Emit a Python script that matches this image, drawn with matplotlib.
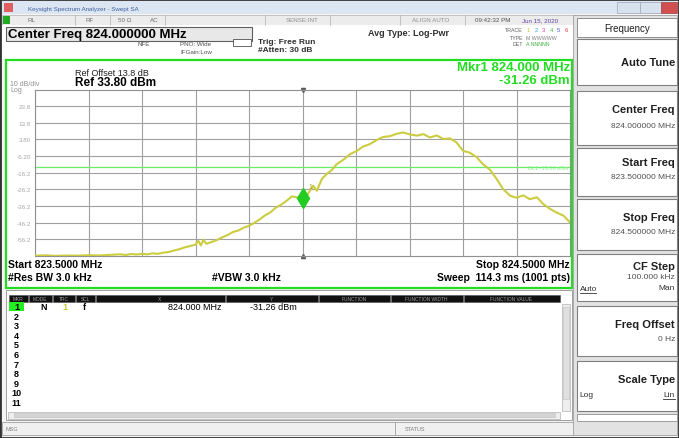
import matplotlib
matplotlib.use("Agg")
import matplotlib.pyplot as plt
from matplotlib.patches import Rectangle

plt.rcParams['font.family'] = ['Liberation Sans', 'DejaVu Sans']

# Sweep settings shown on the analyzer
startFreq = 823.5
stopFreq = 824.5
refLevel = 33.80
dbPerDiv = 10
displayLine = -13.0
markerFreq = 824.000
markerLevel = -31.26

# Trace 1 (MHz / dBm)
traceFreq = [823.500, 823.520, 823.540, 823.560, 823.580, 823.600, 823.620, 823.640,
             823.660, 823.670, 823.680, 823.690, 823.700, 823.710, 823.720, 823.730,
             823.740, 823.750, 823.760, 823.770, 823.780, 823.790, 823.800, 823.805,
             823.810, 823.815, 823.820, 823.830, 823.840, 823.850, 823.860, 823.870,
             823.880, 823.890, 823.900, 823.910, 823.920, 823.930, 823.940, 823.950,
             823.960, 823.970, 823.980, 823.990, 824.000, 824.010, 824.020, 824.027,
             824.036, 824.045, 824.055, 824.064, 824.076, 824.089, 824.102, 824.113,
             824.126, 824.139, 824.150, 824.164, 824.176, 824.188, 824.201, 824.214,
             824.226, 824.238, 824.251, 824.263, 824.276, 824.288, 824.300, 824.313,
             824.326, 824.337, 824.350, 824.363, 824.375, 824.388, 824.400, 824.413,
             824.425, 824.438, 824.450, 824.463, 824.475, 824.488, 824.500]
traceLevel = [-66.0, -65.8, -66.1, -65.9, -66.0, -65.7, -65.9, -65.5,
              -65.2, -65.6, -65.0, -65.3, -64.9, -65.2, -64.6, -64.9,
              -64.2, -63.8, -62.9, -62.1, -61.0, -60.2, -59.4, -57.0,
              -59.8, -56.4, -58.9, -57.8, -56.6, -55.0, -53.6, -51.8,
              -50.9, -49.2, -48.1, -46.3, -44.2, -41.8, -40.0, -37.2,
              -35.4, -33.1, -30.4, -31.0, -31.26, -29.0, -24.0, -27.0,
              -20.0, -17.0, -14.5, -11.0, -8.5, -5.0, -3.0, -0.5,
              1.0, 3.5, 5.2, 5.8, 7.2, 8.0, 6.8, 6.1,
              7.0, 5.0, 6.2, 4.1, 4.4, 2.0, -3.0, -4.2,
              -7.0, -11.0, -14.2, -20.0, -26.0, -30.0, -31.2, -29.8,
              -32.1, -30.9, -35.0, -38.0, -40.1, -42.0, -46.0]

yTickLabels = ["23.8", "13.8", "3.80", "-6.20", "-16.2", "-26.2", "-36.2", "-46.2", "-56.2"]

softKeys = ["Auto Tune", "Center Freq", "Start Freq", "Stop Freq", "CF Step", "Freq Offset", "Scale Type"]
softValues = ["", "824.000000 MHz", "823.500000 MHz", "824.500000 MHz", "100.000 kHz", "0 Hz", ""]

tableHeaders = ["MKR", "MODE", "TRC", "SCL", "X", "Y", "FUNCTION", "FUNCTION WIDTH", "FUNCTION VALUE"]
markerRows = list(range(1, 12))

W, H = 679, 439
fig = plt.figure(figsize=(W / 100, H / 100), dpi=100)
fig.patch.set_facecolor("white")

# pixel canvas for the screen decoration
ui = fig.add_axes([0, 0, 1, 1])
ui.set_xlim(0, W)
ui.set_ylim(H, 0)
ui.axis("off")


def box(x0, y0, x1, y1, fc="white", ec="#808080", lw=0.8, z=1):
    ui.add_patch(Rectangle((x0, y0), x1 - x0, y1 - y0, facecolor=fc, edgecolor=ec, lw=lw, zorder=z))


def txt(x, y, s, size=6.5, color="black", ha="left", bold=False, **kw):
    ui.text(x, y, s, fontsize=size, color=color, ha=ha, va="center",
            fontweight="bold" if bold else "normal", zorder=5, **kw)


# window frame + title bar
box(0, 0, W, H, fc="#f4f4f4", ec="#303030", lw=2)
box(2, 2, W - 2, 15, fc="#dbe6f2", ec="none")
box(4, 4, 13, 13, fc="#e06060", ec="none")
txt(28, 9, "Keysight Spectrum Analyzer - Swept SA", size=4.5, color="#4060a0")
box(617, 3, 640, 14, fc="#d8e2ee", ec="#a0a8b8", lw=0.5)
box(640, 3, 661, 14, fc="#d8e2ee", ec="#a0a8b8", lw=0.5)
box(661, 3, 677, 14, fc="#d05050", ec="#a04040", lw=0.5)

# status row
box(2, 16, 575, 26, fc="#ececec", ec="#b0b0b0", lw=0.5)
for xs in [75, 110, 165, 265, 330, 400, 465]:
    ui.plot([xs, xs], [16, 26], color="#b0b0b0", lw=0.5, zorder=2)
box(3, 17, 10, 25, fc="#22aa22", ec="none", z=3)
txt(28, 21, "RL", size=4.5, color="#707070")
txt(85, 21, "RF", size=4.5, color="#707070")
txt(118, 21, "50 Ω", size=4.5, color="#707070")
txt(150, 21, "AC", size=4.5, color="#707070")
txt(286, 21, "SENSE:INT", size=4.5, color="#909090")
txt(412, 21, "ALIGN AUTO", size=4.5, color="#909090")
txt(475, 21, "09:42:32 PM", size=4.5, color="#505050")
txt(522, 21, "Jun 15, 2020", size=4.5, color="#6040a0")

# settings header
box(2, 26, 575, 60, fc="white", ec="none")
box(6, 28, 252, 42, fc="#e8e8e8", ec="#606060", lw=0.8)
txt(8, 35, "Center Freq 824.000000 MHz", size=9.5, bold=True)
txt(138, 44, "NFE", size=4.5, color="#505050")
txt(180, 44, "PNO: Wide", size=4.5, color="#505050")
txt(180, 52, "IFGain:Low", size=4.5, color="#505050")
box(233, 40, 251, 47, fc="white", ec="#505050", lw=0.6)
txt(258, 42, "Trig: Free Run", size=6, bold=True, color="#303030")
txt(258, 50, "#Atten: 30 dB", size=6, bold=True, color="#303030")
txt(368, 33, "Avg Type: Log-Pwr", size=6.5, bold=True, color="#303030")
txt(523, 31, "TRACE", size=3.8, color="#606060", ha="right")
txt(523, 38, "TYPE", size=3.8, color="#606060", ha="right")
txt(523, 45, "DET", size=3.8, color="#606060", ha="right")
traceColors = ["#c8c830", "#30b0d0", "#e040c0", "#40c040", "#4060e0", "#e04040"]
for i, c in enumerate(traceColors):
    txt(527 + i * 7.5, 31, str(i + 1), size=4.2, color=c)
txt(526, 38, "M WWWWW", size=3.8, color="#808080")
txt(526, 45, "A NNNNN", size=3.8, color="#40b040")

# main display (green frame)
box(6, 61, 572, 289, fc="white", ec="#22dd22", lw=1.6, z=1)
txt(75, 73, "Ref Offset 13.8 dB", size=6.5, color="#202020")
txt(75, 83, "Ref 33.80 dBm", size=8.5, bold=True)
txt(10, 84, "10 dB/div", size=5, color="#909090")
txt(10, 91, "Log", size=5, color="#909090")
txt(570, 68, "Mkr1 824.000 MHz", size=9.5, bold=True, color="#22dd22", ha="right")
txt(570, 81.5, "-31.26 dBm", size=9.5, bold=True, color="#22dd22", ha="right")
txt(8, 265, "Start 823.5000 MHz", size=7.5, bold=True)
txt(570, 265, "Stop 824.5000 MHz", size=7.5, bold=True, ha="right")
txt(8, 278, "#Res BW 3.0 kHz", size=7.5, bold=True)
txt(212, 278, "#VBW 3.0 kHz", size=7.5, bold=True)
txt(570, 278, "Sweep  114.3 ms (1001 pts)", size=7.5, bold=True, ha="right")

# trace plot
ax = fig.add_axes([35 / W, 1 - 257 / H, 535 / W, 166.5 / H])
ax.set_zorder(3)
ax.set_facecolor("white")
ax.set_xlim(startFreq, stopFreq)
ax.set_ylim(refLevel - 10 * dbPerDiv, refLevel)
ax.set_xticks([startFreq + i * (stopFreq - startFreq) / 10 for i in range(11)])
yTicks = [refLevel - i * dbPerDiv for i in range(1, 10)]
ax.set_yticks(yTicks)
ax.set_yticklabels(yTickLabels, fontsize=4.5, color="#a8a8a8")
ax.set_xticklabels([])
ax.tick_params(length=0, pad=3)
ax.grid(True, color="#a0a0a0", lw=0.8)
for sp in ax.spines.values():
    sp.set_color("#909090")
    sp.set_linewidth(0.8)
ax.axhline(displayLine, color="#66ee66", lw=0.9, zorder=2)
ax.text(stopFreq - 0.003, displayLine, "DL1 -13.00 dBm", fontsize=4, color="#88ee88",
        ha="right", va="center", zorder=2)
ax.plot(traceFreq, traceLevel, color="#cccc40", lw=1.5, zorder=3)
ax.plot(markerFreq, markerLevel, marker="d", color="#22cc22", ms=10, zorder=4)
ax.text(markerFreq + 0.012, markerLevel + 6, "1", fontsize=5, color="#a0a020", zorder=4)
ax.plot([markerFreq], [refLevel], marker="v", color="#606060", ms=3, clip_on=False)
ax.plot([markerFreq], [refLevel - 10 * dbPerDiv], marker="^", color="#606060", ms=3, clip_on=False)

# marker table
box(6, 291, 572, 421, fc="white", ec="#909090", lw=0.6)
colEdges = [8, 28, 52, 75, 95, 225, 318, 390, 463, 560]
for i, h in enumerate(tableHeaders):
    x0, x1 = colEdges[i], colEdges[i + 1]
    box(x0 + 0.5, 296, x1 - 0.5, 303, fc="#101010", ec="#505050", lw=0.4, z=2)
    txt((x0 + x1) / 2, 299.5, h, size=3.5, color="#a0a0a0", ha="center")
box(9, 303, 24, 312, fc="#22ee22", ec="none", z=2)
for n in markerRows:
    txt(16.5, 307.5 + (n - 1) * 9.6, str(n), size=6.5, bold=True, ha="center")
txt(40, 307.5, "N", size=6.5, bold=True)
txt(62, 307.5, "1", size=6.5, bold=True, color="#c8c830")
txt(83, 307.5, "f", size=6.5, bold=True)
txt(222, 307.5, "824.000 MHz", size=6.5, ha="right")
txt(297, 307.5, "-31.26 dBm", size=6.5, ha="right")
box(562, 305, 570, 412, fc="#eeeeee", ec="#b0b0b0", lw=0.5)
box(563, 308, 569, 400, fc="#e0e0e0", ec="#c0c0c0", lw=0.4, z=2)
box(8, 413, 560, 420, fc="#eeeeee", ec="#b0b0b0", lw=0.5)
box(14, 414.5, 555, 418.5, fc="#d4d4d4", ec="#c0c0c0", lw=0.4, z=2)

# message / status bar
box(2, 423, 575, 436, fc="#f0f0f0", ec="#a0a0a0", lw=0.6)
ui.plot([395, 395], [423, 436], color="#a0a0a0", lw=0.6, zorder=2)
txt(6, 429.5, "MSG", size=4, color="#808080")
txt(405, 429.5, "STATUS", size=4, color="#808080")

# soft key panel
box(573, 16, 677, 436, fc="#e2e2e2", ec="#a0a0a0", lw=0.6)
box(577, 19, 677, 38, fc="white", ec="#909090", lw=0.7)
txt(627, 28.5, "Frequency", size=7, ha="center", color="#202020")
keyBoxes = [(40, 86), (92, 146), (149, 197), (200, 251), (255, 302), (307, 357), (362, 412)]
keyTitleY = [63, 110, 163, 218, 267, 325, 380]
keyValueY = [None, 127, 178, 233, 278, 340, None]
for (y0, y1), key, val, ty, vy in zip(keyBoxes, softKeys, softValues, keyTitleY, keyValueY):
    box(577, y0, 677, y1, fc="white", ec="#808080", lw=0.8)
    txt(675, ty, key, size=8, bold=True, ha="right", color="#202020")
    if val:
        txt(675, vy, val, size=6, ha="right", color="#505050")
txt(580, 290, "Auto", size=6, color="#303030")
ui.plot([580, 596], [294, 294], color="#303030", lw=0.6, zorder=5)
txt(675, 289, "Man", size=6, ha="right", color="#303030")
txt(579, 396, "Log", size=6, color="#303030")
txt(675, 396, "Lin", size=6, ha="right", color="#303030")
ui.plot([663, 675], [400, 400], color="#303030", lw=0.6, zorder=5)
box(577, 415, 677, 422, fc="white", ec="#909090", lw=0.6)

fig.savefig("out.png", dpi=100)
